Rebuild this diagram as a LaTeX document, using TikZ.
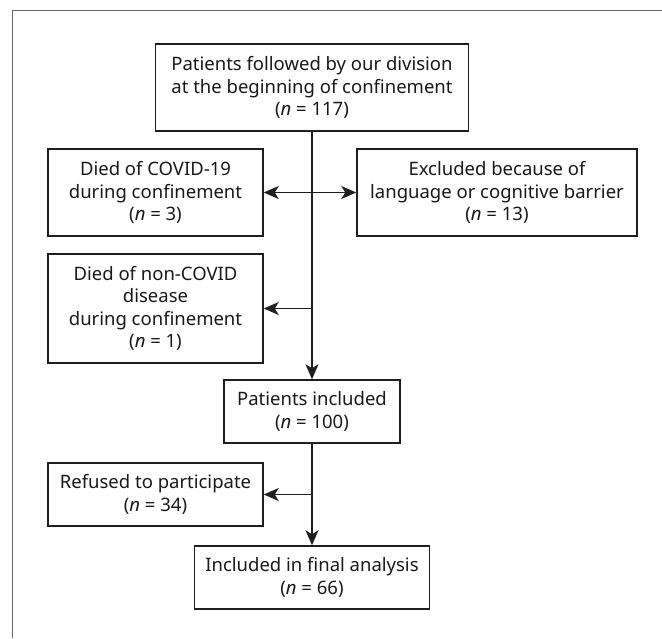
\documentclass[tikz,border=0pt]{standalone}
\usepackage{fontspec}
\setmainfont{Noto Sans}
\usetikzlibrary{arrows.meta}

\begin{document}
\begin{tikzpicture}[x=1pt,y=-1pt,>={Stealth[length=15pt,width=13pt,inset=4pt]},
    box/.style={draw=black!88,line width=1.5pt,align=center,inner sep=0pt,
      font=\fontsize{18.5}{22.5}\selectfont,text=black!90},
    flow/.style={line width=1.5pt,draw=black!88}]
    \useasboundingbox (0,0) rectangle (662,638);
    \draw[line width=1pt,black!60] (12,638) -- (12,10) -- (662,10);
    \node[box,minimum width=313pt,minimum height=87pt] (start) at (312,87.5)
      {Patients followed by our division\\at the beginning of confinement\\(\textit{n} = 117)};
    \node[box,minimum width=215pt,minimum height=87pt] (covid) at (155.5,192.5)
      {Died of COVID-19\\during confinement\\(\textit{n} = 3)};
    \node[box,minimum width=280pt,minimum height=87pt] (excluded) at (497,192.5)
      {Excluded because of\\language or cognitive barrier\\(\textit{n} = 13)};
    \node[box,minimum width=215pt,minimum height=109pt] (noncovid) at (155.5,308.5)
      {Died of non-COVID\\disease\\during confinement\\(\textit{n} = 1)};
    \node[box,minimum width=176pt,minimum height=63pt] (included) at (312,411.5)
      {Patients included\\(\textit{n} = 100)};
    \node[box,minimum width=215pt,minimum height=63pt] (refused) at (155.5,494.5)
      {Refused to participate\\(\textit{n} = 34)};
    \node[box,minimum width=235pt,minimum height=63pt] (final) at (312,577.5)
      {Included in final analysis\\(\textit{n} = 66)};
    % main line and side branches
    \draw[flow,->] (start) -- (included);
    \draw[flow,->] (included) -- (final);
    \draw[flow,<->] (covid) -- (excluded);
    \draw[flow,->] (start.south |- noncovid) -- (noncovid);
    \draw[flow,->] (included.south |- refused) -- (refused);
  \end{tikzpicture}
\end{document}
